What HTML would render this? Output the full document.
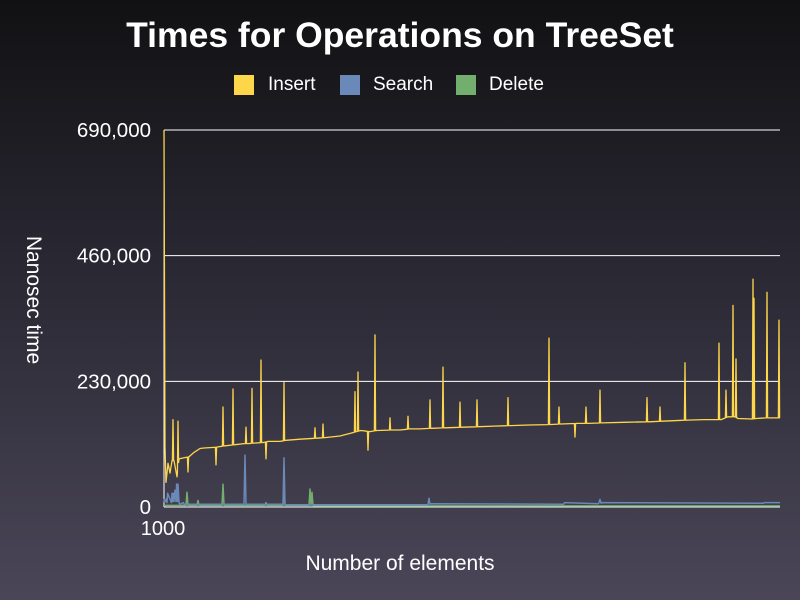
<!DOCTYPE html>
<html><head><meta charset="utf-8"><style>
html,body{margin:0;padding:0}
body{width:800px;height:600px;overflow:hidden;background:linear-gradient(#111113 0%,#2a2833 45%,#4a4658 100%);font-family:"Liberation Sans",sans-serif}
</style></head><body>
<svg id="chart" width="800" height="600" xmlns="http://www.w3.org/2000/svg" style="position:absolute;left:0;top:0">
<text x="400" y="47" fill="#fff" font-size="35.5" font-weight="bold" text-anchor="middle" font-family="Liberation Sans, sans-serif">Times for Operations on TreeSet</text>
<g font-size="19" fill="#fff" font-family="Liberation Sans, sans-serif">
<g><rect x="234" y="75" width="20" height="20" fill="#fdd64a"/><text x="268" y="90">Insert</text></g>
<g><rect x="340" y="75" width="20" height="20" fill="#6a88b8"/><text x="373" y="90">Search</text></g>
<g><rect x="456" y="75" width="20" height="20" fill="#72ae6e"/><text x="489" y="90">Delete</text></g>
</g>
<text transform="translate(27,300) rotate(90)" fill="#fff" font-size="21" text-anchor="middle" font-family="Liberation Sans, sans-serif">Nanosec time</text>
<text x="400" y="570" fill="#fff" font-size="21" text-anchor="middle" font-family="Liberation Sans, sans-serif">Number of elements</text>
<g id="grid"></g><g id="series"></g>
</svg>
<script>
const yTicks=[0,230000,460000,690000];
const yTickLabels=["0","230,000","460,000","690,000"];
const xTickLabels=["1000"];
const insertBaseN=[0,1,2,4,6,8,10,13,15,20,25,30,36,40,50,54,61,71,80,84,90,99,104,116,122,136,153,161,176,197,206,213,228,236,246,256,268,281,298,315,330,346,365,387,397,413,424,438,460,485,498,510,523,540,557,564,571,574,588,592,602,605,612,616];
const insertBaseV=[690000,110000,45000,80000,62000,85000,85000,55000,88000,90000,92000,100000,107000,108000,109000,110000,112000,114000,116000,116000,117000,118000,120000,120000,122000,124000,126000,127000,130000,140000,138000,140000,141000,141000,143000,143000,144000,145000,146000,147000,148000,149000,150000,151000,152000,153000,153000,154000,155000,156000,157000,158000,159000,160000,160000,165000,165000,162000,161000,162000,163000,163000,163000,163000];
const insertSpikeN=[9,14,24,52,59,69,82,88,97,102,120,151,159,191,194,204,211,226,244,266,279,296,313,344,385,395,411,422,436,483,496,521,555,562,569,572,589,590,603,615];
const insertSpikeV=[160000,157000,64000,77000,183000,216000,146000,217000,269000,88000,228000,145000,152000,211000,247000,104000,315000,163000,166000,196000,256000,192000,196000,200000,309000,183000,128000,183000,214000,200000,183000,264000,300000,214000,369000,271000,417000,382000,393000,342000];
const searchN=[0,3,8,10,11,12,14,15,20,80,81,82,119,120,121,200,264,265,266,400,435,436,437,600,616];
const searchV=[15000,8000,25000,10000,31000,10000,42000,8000,5000,5000,95000,5000,5000,90000,4000,4000,4000,16000,5000,6000,8000,14000,7000,8000,8000];
const deleteN=[0,22,23,24,33,34,35,58,59,60,101,102,103,119,120,121,145,146,147,148,149,616];
const deleteV=[3000,3000,27000,3000,3000,12000,3000,3000,42000,3000,3000,8000,3000,3000,40000,3000,3000,33000,3000,27000,3000,2000];
const X0=164,X1=780,Y0=507,Y1=130,NMAX=616,VMAX=690000;
const xs=n=>X0+(n/NMAX)*(X1-X0);
const ys=v=>Y0-(v/VMAX)*(Y0-Y1);
const NS="http://www.w3.org/2000/svg";
const grid=document.getElementById('grid'),ser=document.getElementById('series');
yTicks.forEach((t,i)=>{
 const l=document.createElementNS(NS,'line');
 
 
 l.setAttribute('x1',X0);l.setAttribute('x2',X1);l.setAttribute('y1',ys(t));l.setAttribute('y2',ys(t));
 l.setAttribute('stroke','#fff');l.setAttribute('stroke-width','1');grid.appendChild(l);
 const tx=document.createElementNS(NS,'text');
 
 
 tx.setAttribute('x',151);tx.setAttribute('y',ys(t)+7);tx.setAttribute('fill','#fff');tx.setAttribute('font-size','20.5');
 tx.setAttribute('text-anchor','end');tx.setAttribute('font-family','Liberation Sans, sans-serif');tx.textContent=yTickLabels[i];grid.appendChild(tx);
});
const ax=document.createElementNS(NS,'line');


ax.setAttribute('x1',X0);ax.setAttribute('x2',X0);ax.setAttribute('y1',Y1);ax.setAttribute('y2',Y0);ax.setAttribute('stroke','#fff');grid.appendChild(ax);
const xt=document.createElementNS(NS,'text');


xt.setAttribute('x',xs(0)-1);xt.setAttribute('y',535);xt.setAttribute('fill','#fff');xt.setAttribute('font-size','20');
xt.setAttribute('text-anchor','middle');xt.setAttribute('font-family','Liberation Sans, sans-serif');xt.textContent=xTickLabels[0];grid.appendChild(xt);
function baseAt(n){
 for(let i=1;i<insertBaseN.length;i++){
  if(insertBaseN[i]>=n){const a=insertBaseN[i-1],b=insertBaseN[i];const t=(n-a)/(b-a||1);return insertBaseV[i-1]+(insertBaseV[i]-insertBaseV[i-1])*t;}
 }
 return insertBaseV[insertBaseV.length-1];
}
function poly(pts,color,name,w){
 const p=document.createElementNS(NS,'polyline');
 
 
 p.setAttribute('points',pts.map(q=>xs(q[0]).toFixed(1)+','+ys(q[1]).toFixed(1)).join(' '));
 p.setAttribute('fill','none');p.setAttribute('stroke',color);p.setAttribute('stroke-width',w);p.setAttribute('stroke-linejoin','round');
 ser.appendChild(p);
}
function spiky(N,V){
 // draw each point as a narrow spike between its neighbours
 const pts=[];
 N.forEach((n,i)=>{
  if(i>0&&i<N.length-1&&N[i-1]<n-1){pts.push([n-0.6,V[i-1]]);}
  pts.push([n,V[i]]);
  if(i<N.length-1&&N[i+1]>n+1){pts.push([n+0.6,V[i+1]]);}
 });
 return pts;
}
poly(spiky(deleteN,deleteV),'#72ae6e','delete-series',1.5);
poly(spiky(searchN,searchV),'#6a88b8','search-series',1.5);
// insert: baseline merged with spikes
const ins=[];
insertBaseN.forEach((n,i)=>ins.push([n,insertBaseV[i],0]));
insertSpikeN.forEach((n,i)=>{ins.push([n-0.6,baseAt(n-0.6),0]);ins.push([n,insertSpikeV[i],1]);ins.push([n+0.6,baseAt(n+0.6),0]);});
ins.sort((a,b)=>a[0]-b[0]);
poly(ins,'#fdd64a','insert-series',1.3);
</script>
</body></html>
